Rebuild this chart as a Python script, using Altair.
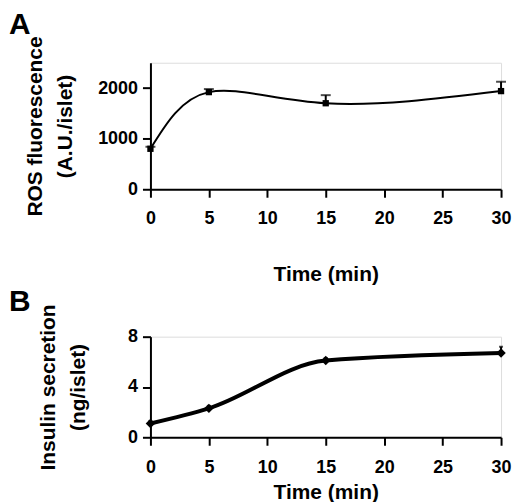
import altair as alt
import pandas as pd

FONT = "Liberation Sans"

# Panel A: ROS fluorescence
time_a = [0, 5, 15, 30]
ros = [800, 1920, 1700, 1940]
ros_err = [40, 60, 160, 185]

# Panel B: insulin secretion
time_b = [0, 5, 15, 30]
insulin = [1.1, 2.3, 6.1, 6.7]
insulin_err = [0.2, 0.2, 0.2, 0.5]

df_a = pd.DataFrame({"t": time_a, "v": ros, "top": [v + e for v, e in zip(ros, ros_err)]})
df_b = pd.DataFrame({"t": time_b, "v": insulin, "top": [v + e for v, e in zip(insulin, insulin_err)]})

axis_style = dict(
    labelFont=FONT, labelFontSize=18, labelFontWeight="bold", labelColor="black",
    titleFont=FONT, titleFontSize=21, titleFontWeight="bold", titleColor="black",
    domainColor="black", domainWidth=2, tickColor="black", tickWidth=2,
    tickSize=8, grid=False, format="d",
)


def panel(df, letter, ytitle, ymax, yticks, width, height, line_w, interp, shape, msize,
          cap, title_offset, x_title_pad, x_label_pad, y_title_pad):
    x = alt.X("t:Q", scale=alt.Scale(domain=[0, 30], nice=False),
              axis=alt.Axis(values=[0, 5, 10, 15, 20, 25, 30], title="Time (min)",
                            labelFlush=False, titlePadding=x_title_pad,
                            labelPadding=x_label_pad, **axis_style))
    y = alt.Y("v:Q", scale=alt.Scale(domain=[0, ymax], nice=False),
              axis=alt.Axis(values=yticks, title=ytitle, titlePadding=y_title_pad,
                            labelPadding=5, titleLineHeight=30, **axis_style))
    base = alt.Chart(df)
    err = base.mark_rule(color="black", strokeWidth=2).encode(x="t:Q", y=y, y2="top:Q")
    caps = base.mark_tick(color="black", orient="horizontal", size=cap, thickness=2).encode(
        x="t:Q", y="top:Q")
    line = base.mark_line(color="black", strokeWidth=line_w, interpolate=interp).encode(x=x, y=y)
    pts = base.mark_point(shape=shape, filled=True, color="black", size=msize, opacity=1).encode(
        x="t:Q", y="v:Q")
    return alt.layer(err, caps, line, pts).properties(
        width=width, height=height,
        title=alt.TitleParams(letter, anchor="start", frame="group", dx=-142,
                              fontSize=30, font=FONT, fontWeight="bold", color="black",
                              offset=title_offset),
    )


chart_a = panel(df_a, "A", ["ROS fluorescence", "(A.U./islet)"], 2500, [0, 1000, 2000],
                352, 127, 2, "natural", "square", 40, 10, -4, 37, 12, 22)
chart_b = panel(df_b, "B", ["Insulin secretion", "(ng/islet)"], 8, [0, 4, 8],
                352, 101, 4, "monotone", "diamond", 90, 4, -13, 5, 13, 39)

chart = alt.vconcat(chart_a, chart_b, spacing=0).properties(
    padding={"left": 0, "top": 0, "right": 0, "bottom": 0}
).configure_view(stroke=None).configure(background="white")

chart.save("out.html", embed_options={"renderer": "svg", "actions": False})
